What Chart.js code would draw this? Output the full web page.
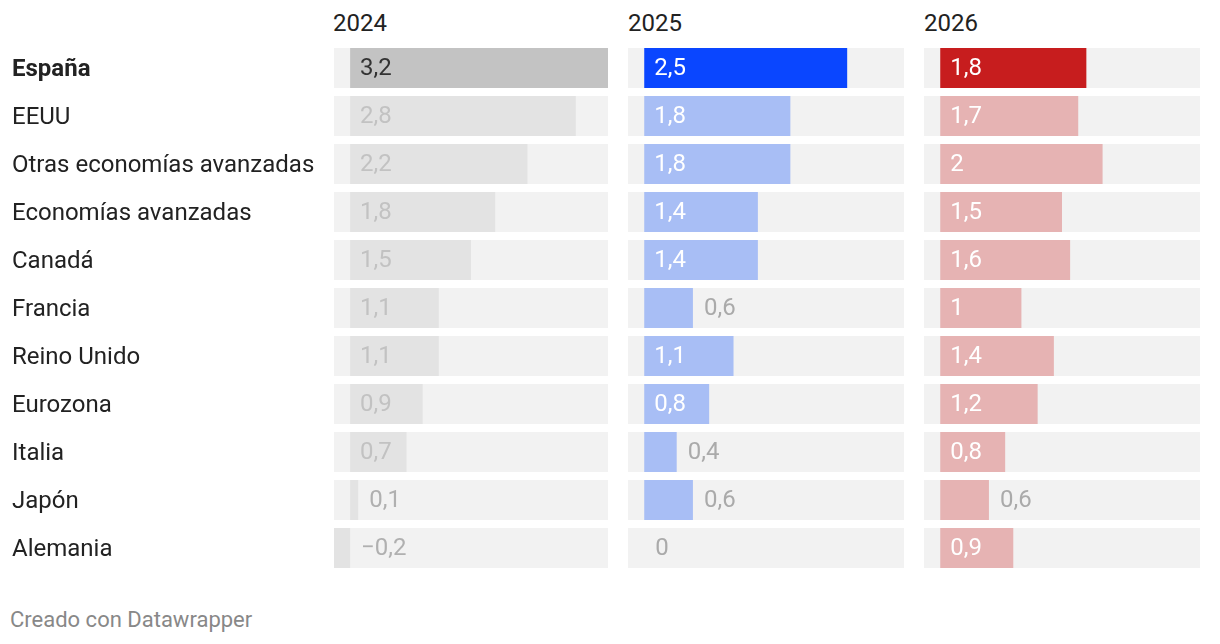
<!DOCTYPE html>
<html lang="es">
<head>
<meta charset="utf-8">
<title>Crecimiento PIB</title>
<script src="https://cdn.jsdelivr.net/npm/chart.js@4.4.1/dist/chart.umd.min.js"></script>
<style>
  body { margin: 0; background: #fff; font-family: Roboto, sans-serif; }
  #wrap { position: relative; width: 1220px; height: 644px; }
  .year { position: absolute; top: 9px; font-size: 24px; line-height: 28px; color: #222; }
  .box { position: absolute; top: 0; height: 590px; }
  #footer { position: absolute; left: 10px; top: 607px; font-size: 22px; line-height: 26px; color: #888; }
</style>
</head>
<body>
<div id="wrap">
  <div class="year" style="left:333px">2024</div>
  <div class="year" style="left:628px">2025</div>
  <div class="year" style="left:924px">2026</div>
  <div class="box" style="left:0;width:608px"><canvas id="c2024"></canvas></div>
  <div class="box" style="left:628px;width:276px"><canvas id="c2025"></canvas></div>
  <div class="box" style="left:924px;width:276px"><canvas id="c2026"></canvas></div>
  <div id="footer">Creado con Datawrapper</div>
</div>
<script>
const countries = ['España', 'EEUU', 'Otras economías avanzadas', 'Economías avanzadas', 'Canadá',
  'Francia', 'Reino Unido', 'Eurozona', 'Italia', 'Japón', 'Alemania'];
const values2024 = [3.2, 2.8, 2.2, 1.8, 1.5, 1.1, 1.1, 0.9, 0.7, 0.1, -0.2];
const values2025 = [2.5, 1.8, 1.8, 1.4, 1.4, 0.6, 1.1, 0.8, 0.4, 0.6, 0];
const values2026 = [1.8, 1.7, 2, 1.5, 1.6, 1, 1.4, 1.2, 0.8, 0.6, 0.9];
const xMin = -0.2;
const xMax = 3.2;

function fmt(v) {
  const s = String(Math.abs(v)).replace('.', ',');
  return v < 0 ? '\u2212' + s : s;
}

// Draws value labels inside the bar when they fit, otherwise after the bar
const valueLabels = {
  id: 'valueLabels',
  afterDatasetsDraw(chart, args, opts) {
    const ctx = chart.ctx;
    const meta = chart.getDatasetMeta(1);
    const data = chart.data.datasets[1].data;
    ctx.save();
    ctx.font = '24px Roboto, sans-serif';
    ctx.textBaseline = 'middle';
    ctx.textAlign = 'left';
    meta.data.forEach((el, i) => {
      const v = data[i];
      const txt = fmt(v);
      const w = ctx.measureText(txt).width;
      const barW = el.x - el.base;
      if (v > 0 && barW >= w + 20) {
        ctx.fillStyle = i === 0 ? opts.firstInside : opts.inside;
        ctx.fillText(txt, el.base + 10, el.y + 1);
      } else {
        ctx.fillStyle = opts.outside;
        ctx.fillText(txt, Math.max(el.x, el.base) + 11, el.y + 1);
      }
    });
    ctx.restore();
  }
};

function makeChart(id, values, strong, light, labelOpts, showNames) {
  const ctx = document.getElementById(id).getContext('2d');
  return new Chart(ctx, {
    type: 'bar',
    data: {
      labels: countries,
      datasets: [
        {
          data: countries.map(() => [xMin, xMax]),
          backgroundColor: '#f2f2f2',
          grouped: false,
          order: 2,
          barPercentage: 1,
          categoryPercentage: 40 / 48
        },
        {
          data: values,
          backgroundColor: values.map((v, i) => i === 0 ? strong : light),
          grouped: false,
          order: 1,
          barPercentage: 1,
          categoryPercentage: 40 / 48
        }
      ]
    },
    options: {
      indexAxis: 'y',
      responsive: true,
      maintainAspectRatio: false,
      animation: false,
      layout: { padding: { top: 44, bottom: 18, left: showNames ? 12 : 0, right: 0 } },
      plugins: {
        legend: { display: false },
        tooltip: { enabled: false },
        valueLabels: labelOpts
      },
      scales: {
        x: { display: false, min: xMin, max: xMax },
        y: {
          display: showNames,
          grid: { display: false, drawTicks: false },
          border: { display: false },
          afterFit: (scale) => { if (showNames) scale.width = 322; },
          ticks: {
            crossAlign: 'far',
            padding: 0,
            labelOffset: 2,
            color: '#222',
            font: (c) => ({ family: 'Roboto, sans-serif', size: 24, weight: c.index === 0 ? 'bold' : 'normal' })
          }
        }
      }
    },
    plugins: [valueLabels]
  });
}

makeChart('c2024', values2024, '#c3c3c3', '#e3e3e3',
  { firstInside: '#333333', inside: '#c2c2c2', outside: '#b0b0b0' }, true);
makeChart('c2025', values2025, '#0a46ff', '#a8bef5',
  { firstInside: '#ffffff', inside: '#ffffff', outside: '#aaaaaa' }, false);
makeChart('c2026', values2026, '#c71d1e', '#e6b3b3',
  { firstInside: '#ffffff', inside: '#ffffff', outside: '#aaaaaa' }, false);
</script>
</body>
</html>
